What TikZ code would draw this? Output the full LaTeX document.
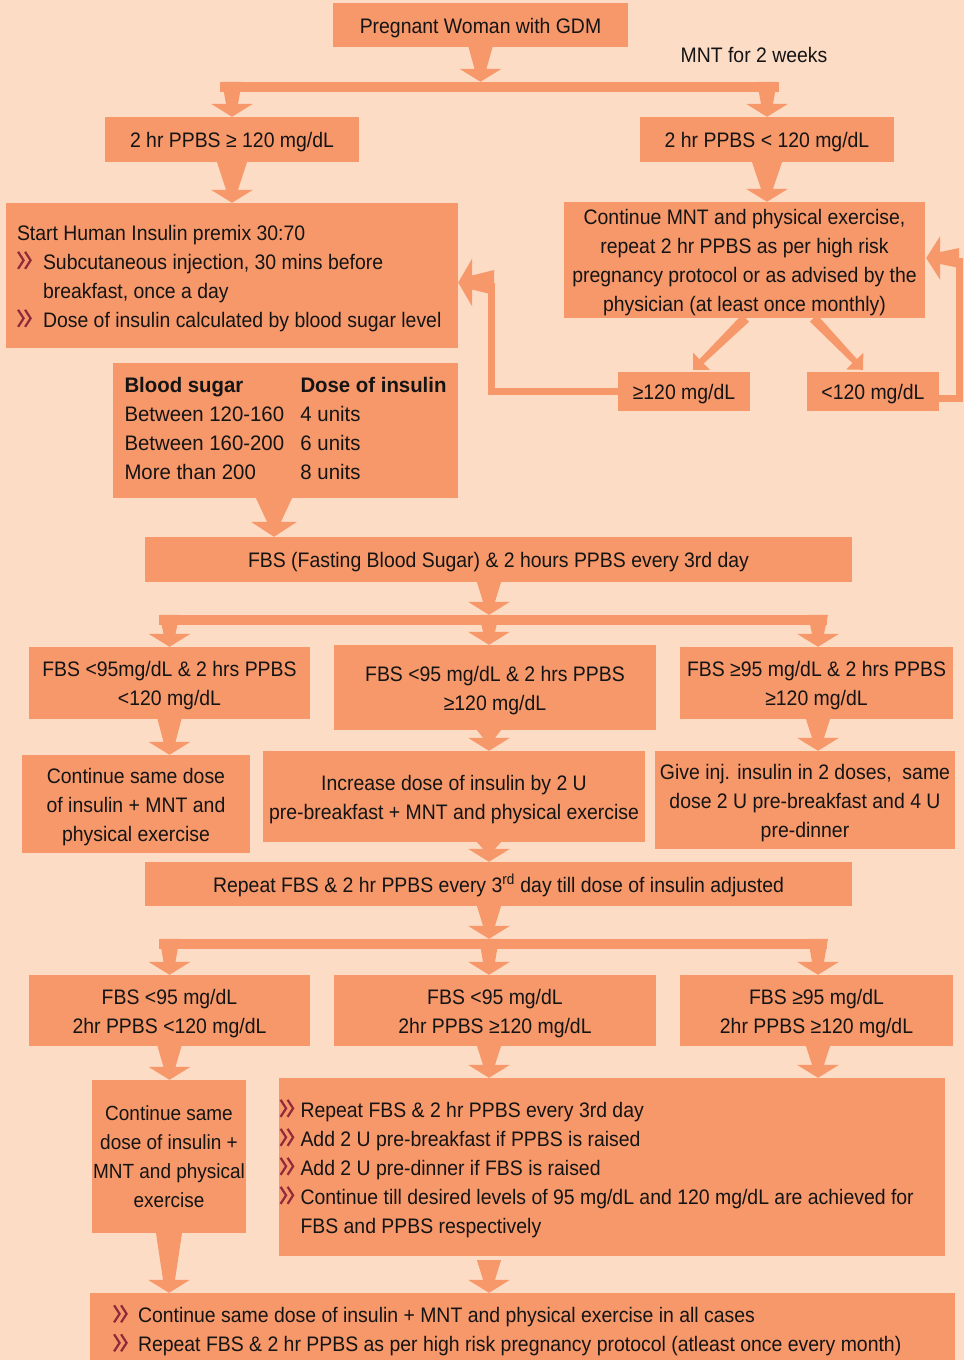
\documentclass[tikz,border=0pt]{standalone}
\usepackage{fontspec}
\setmainfont{Liberation Sans}[FakeStretch=0.925]
\newfontfamily\tabfont{Liberation Sans}[FakeStretch=0.97]
\usetikzlibrary{calc}

\definecolor{bg}{HTML}{FDDCC6}
\definecolor{boxc}{HTML}{F6986A}
\definecolor{bulc}{HTML}{8E2A3A}
\definecolor{txt}{HTML}{141414}

% double chevron used as list marker
\newcommand{\bul}{\tikz[baseline=0pt,x=1pt,y=1pt]{\draw[bulc,line width=2.2pt,line join=miter,line cap=butt]
  (0.5,0.5)--(6,9)--(0.5,17.5) (7.5,0.5)--(13,9)--(7.5,17.5);}}
\newcommand{\bitem}[1]{\makebox[#1][l]{\bul}}

% block arrow: start half-width, neck half-width, head half-width, head length, from, tip
\newcommand{\barrowx}[6]{%
  \coordinate (hb) at ($(#6)!#4pt!(#5)$);
  \fill[boxc] ($(#5)!#1pt!90:(#6)$) -- ($(hb)!#2pt!90:(#6)$) -- ($(hb)!#3pt!90:(#6)$)
    -- (#6) -- ($(hb)!#3pt!-90:(#6)$) -- ($(hb)!#2pt!-90:(#6)$) -- ($(#5)!#1pt!-90:(#6)$) -- cycle;
}
\newcommand{\barrow}[3][12]{\barrowx{#1}{6}{21}{13}{#2}{#3}}

\tikzset{
  plainbox/.style={fill=boxc, inner sep=0pt, text=txt, align=center,
    font=\fontsize{21}{29}\selectfont},
  box/.style={plainbox, align=flush center, minimum width=#1, text width=#1,
    execute at begin node={\rule{0pt}{21pt}}},
  bar/.style={fill=boxc, inner sep=0pt, minimum height=10},
  link/.style={draw=boxc, line width=7pt, line join=miter},
}

\begin{document}
\begin{tikzpicture}[x=1pt,y=-1pt]
\useasboundingbox (0,0) rectangle (964,1360);
\fill[bg] (0,0) rectangle (964,1360);

% column positions of the vertical connectors
\coordinate (cA) at (169.5,0);
\coordinate (cB) at (489,0);
\coordinate (cC) at (818,0);

% ---- top part
\node[box=295, minimum height=44] (top) at (480.5,25) {Pregnant Woman with GDM};
\node[text=txt, inner sep=0pt, font=\fontsize{21}{29}\selectfont] (mnt) at (754,55) {MNT for 2 weeks};
\node[bar, minimum width=559] (bar1) at (499.5,87) {};

\node[box=254, minimum height=45] (p1) at (232,139.5) {2 hr PPBS ≥ 120 mg/dL};
\node[box=254, minimum height=45] (p2) at (767,139.5) {2 hr PPBS < 120 mg/dL};

\node[box=452, minimum height=145, text width=430, align=flush left] (ins) at (232,275.5)
  {Start Human Insulin premix 30:70\\
   \bitem{26pt}Subcutaneous injection, 30 mins before\\
   \hspace*{26pt}breakfast, once a day\\
   \bitem{26pt}Dose of insulin calculated by blood sugar level};

\node[box=361, minimum height=116] (cont) at (744.5,260)
  {Continue MNT and physical exercise,\\ repeat 2 hr PPBS as per high risk\\
   pregnancy protocol or as advised by the\\ physician (at least once monthly)};

\node[box=132, minimum height=39] (ge) at (684,391.5) {≥120 mg/dL};
\node[box=132, minimum height=39] (lt) at (873,391.5) {<120 mg/dL};

\node[plainbox, minimum width=345, minimum height=135] (tab) at (285.5,430.5)
  {\tabfont\begin{tabular}{@{}p{176pt}@{}l@{}}
   \textbf{Blood sugar} & \textbf{Dose of insulin}\\
   Between 120-160 & 4 units\\
   Between 160-200 & 6 units\\
   More than 200 & 8 units
   \end{tabular}};

% ---- first FBS round
\node[box=707, minimum height=45] (fbs) at (498.5,559.5)
  {FBS (Fasting Blood Sugar) \& 2 hours PPBS every 3rd day};
\node[bar, minimum width=668] (bar2) at (493,620) {};

\node[box=281, minimum height=72] (rA) at (169.5,683)
  {FBS <95mg/dL \& 2 hrs PPBS\\ <120 mg/dL};
\node[box=322, minimum height=85] (rB) at (495,687.5)
  {FBS <95 mg/dL \& 2 hrs PPBS\\ ≥120 mg/dL};
\node[box=273, minimum height=72] (rC) at (816.5,683)
  {FBS ≥95 mg/dL \& 2 hrs PPBS\\ ≥120 mg/dL};

\node[box=228, minimum height=98] (r2A) at (136,804)
  {Continue same dose\\ of insulin + MNT and\\ physical exercise};
\node[box=382, minimum height=91] (r2B) at (454,796.5)
  {Increase dose of insulin by 2 U\\ pre-breakfast + MNT and physical exercise};
\node[box=300, minimum height=98] (r2C) at (805,800)
  {Give inj. insulin in 2 doses,\ \ same\\ dose 2 U pre-breakfast and 4 U\\ pre-dinner};

% ---- repeated FBS round
\node[box=707, minimum height=44] (rep) at (498.5,884)
  {Repeat FBS \& 2 hr PPBS every 3\textsuperscript{rd} day till dose of insulin adjusted};
\node[bar, minimum width=668] (bar3) at (493,944) {};

\node[box=281, minimum height=71] (r3A) at (169.5,1010.5)
  {FBS <95 mg/dL\\ 2hr PPBS <120 mg/dL};
\node[box=322, minimum height=71] (r3B) at (495,1010.5)
  {FBS <95 mg/dL\\ 2hr PPBS ≥120 mg/dL};
\node[box=273, minimum height=71] (r3C) at (816.5,1010.5)
  {FBS ≥95 mg/dL\\ 2hr PPBS ≥120 mg/dL};

\node[plainbox, minimum width=154, minimum height=153,
      font=\fontsize{20.5}{29}\selectfont] (small) at (169,1156.5)
  {Continue same\\ dose of insulin +\\ MNT and physical\\ exercise};
\node[box=666, minimum height=178, text width=665, align=flush left] (big) at (612,1167)
  {\bitem{21pt}Repeat FBS \& 2 hr PPBS every 3rd day\\
   \bitem{21pt}Add 2 U pre-breakfast if PPBS is raised\\
   \bitem{21pt}Add 2 U pre-dinner if FBS is raised\\
   \bitem{21pt}Continue till desired levels of 95 mg/dL and 120 mg/dL are achieved for\\
   \hspace*{21pt}FBS and PPBS respectively};

\node[box=865, minimum height=72, text width=819, align=flush left] (bot) at (522.5,1329)
  {\bitem{25pt}Continue same dose of insulin + MNT and physical exercise in all cases\\
   \bitem{25pt}Repeat FBS \& 2 hr PPBS as per high risk pregnancy protocol (atleast once every month)};

% ---- connectors
\barrow{top.south}{top.south |- bar1.north}
\barrow[10]{p1.north |- bar1.north}{p1.north}
\barrow[10]{p2.north |- bar1.north}{p2.north}
\barrow[15]{p1.south}{p1.south |- ins.north}
\barrow[15]{p2.south}{p2.south |- cont.north}

\coordinate (d1s) at ($(cont.south)+(1,0)$);
\coordinate (d1t) at ($(ge.north)+(9,-2)$);
\coordinate (d2s) at ($(cont.south)+(69,0)$);
\coordinate (d2t) at ($(lt.north)+(-10,-2)$);
\barrowx{5}{3}{12}{12}{d1s}{d1t}
\barrowx{5}{3}{12}{12}{d2s}{d2t}

% loops back from the re-check results
\coordinate (fLt) at ($(ins.east)+(0,7)$);
\coordinate (fLs) at ($(fLt)+(36,0)$);
\draw[link] (ge.west) -| ($(fLs)+(-3,0)$);
\barrowx{12.5}{7}{24}{14}{fLs}{fLt}
\coordinate (fRt) at ($(cont.east)+(1,-2)$);
\coordinate (fRs) at ($(fRt)+(33,0)$);
\draw[link] ($(lt.east)+(0,7)$) -| (fRs);
\barrowx{10}{6}{22}{14}{fRs}{fRt}

\coordinate (tS) at ($(tab.south)+(-11.5,0)$);
\barrowx{18}{7}{23}{15}{tS}{tS |- fbs.north}

\barrow{cB |- fbs.south}{cB |- bar2.north}
\barrow[10]{cA |- bar2.north}{cA |- rA.north}
\barrow[10]{cB |- bar2.north}{cB |- rB.north}
\barrow[10]{cC |- bar2.north}{cC |- rC.north}

\barrow{cA |- rA.south}{cA |- r2A.north}
\barrow{cB |- rB.south}{cB |- r2B.north}
\barrow{cC |- rC.south}{cC |- r2C.north}
\barrow{cB |- r2B.south}{cB |- rep.north}

\barrow{cB |- rep.south}{cB |- bar3.north}
\barrow[10]{cA |- bar3.north}{cA |- r3A.north}
\barrow[10]{cB |- bar3.north}{cB |- r3B.north}
\barrow[10]{cC |- bar3.north}{cC |- r3C.north}

\barrow{cA |- r3A.south}{cA |- small.north}
\barrow{cB |- r3B.south}{cB |- big.north}
\barrow{cC |- r3C.south}{cC |- big.north}

\barrow[13]{small.south}{small.south |- bot.north}
\coordinate (bS) at ($(cB |- big.south)+(0,4)$);
\barrow{bS}{bS |- bot.north}
\end{tikzpicture}
\end{document}
